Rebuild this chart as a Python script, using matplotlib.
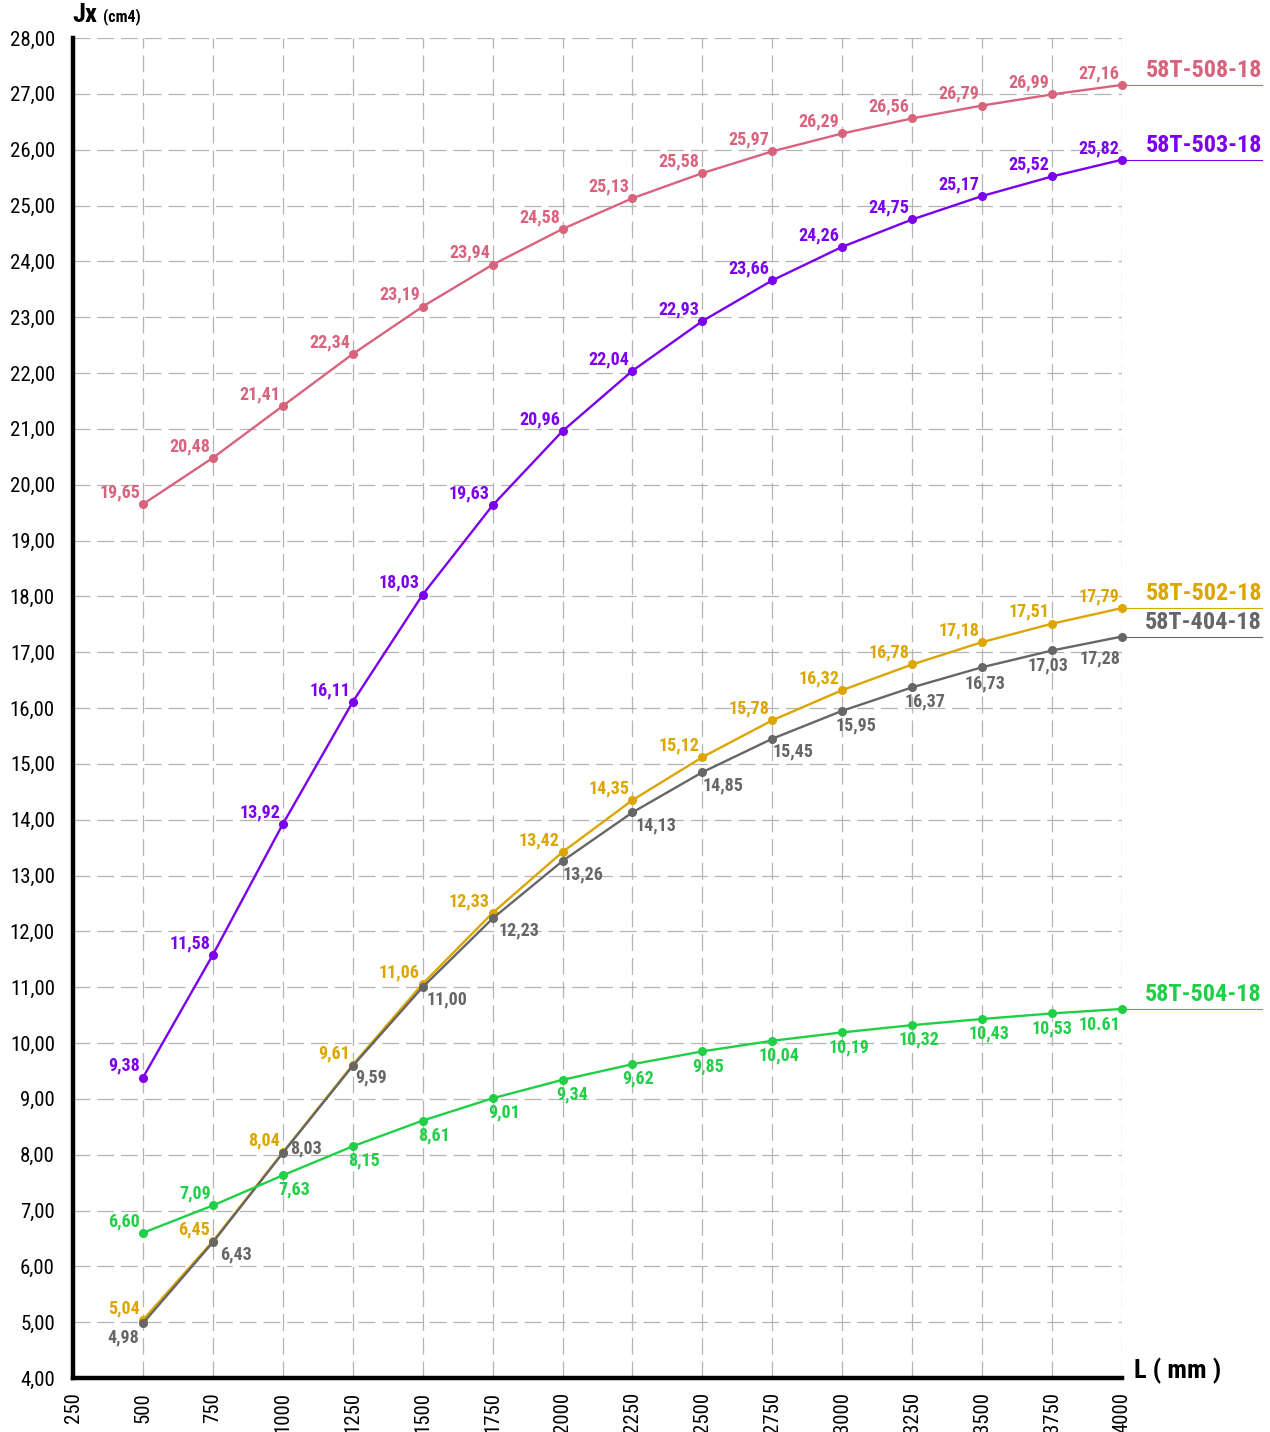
import matplotlib
matplotlib.use("Agg")
import matplotlib.pyplot as plt
from matplotlib import font_manager
from matplotlib.transforms import blended_transform_factory

# condensed font if one is installed, else DejaVu condensed
names = {f.name for f in font_manager.fontManager.ttflist}
narrow = [n for n in ['Roboto Condensed', 'Liberation Sans Narrow', 'Open Sans Condensed', 'Arial Narrow'] if n in names]
if narrow:
    plt.rcParams['font.family'] = [narrow[0], 'DejaVu Sans']
else:
    plt.rcParams['font.family'] = ['DejaVu Sans']
    plt.rcParams['font.stretch'] = 'condensed'

# data
lengths = [500, 750, 1000, 1250, 1500, 1750, 2000, 2250, 2500, 2750, 3000, 3250, 3500, 3750, 4000]
s508 = [19.65, 20.48, 21.41, 22.34, 23.19, 23.94, 24.58, 25.13, 25.58, 25.97, 26.29, 26.56, 26.79, 26.99, 27.16]
s503 = [9.38, 11.58, 13.92, 16.11, 18.03, 19.63, 20.96, 22.04, 22.93, 23.66, 24.26, 24.75, 25.17, 25.52, 25.82]
s502 = [5.04, 6.45, 8.04, 9.61, 11.06, 12.33, 13.42, 14.35, 15.12, 15.78, 16.32, 16.78, 17.18, 17.51, 17.79]
s404 = [4.98, 6.43, 8.03, 9.59, 11.00, 12.23, 13.26, 14.13, 14.85, 15.45, 15.95, 16.37, 16.73, 17.03, 17.28]
s504 = [6.60, 7.09, 7.63, 8.15, 8.61, 9.01, 9.34, 9.62, 9.85, 10.04, 10.19, 10.32, 10.43, 10.53, 10.61]
names_series = ['58T-508-18', '58T-503-18', '58T-502-18', '58T-404-18', '58T-504-18']
xticks = list(range(250, 4001, 250))
yticks = list(range(4, 29))

colors = {'58T-508-18': '#d9637d', '58T-503-18': '#7b00ee', '58T-502-18': '#dca500',
          '58T-404-18': '#666666', '58T-504-18': '#1fd046'}

# label offsets (points) for the series labelled below the line
off404 = [(-3, -4, 'right'), (5, -2, 'left'), (5, 3, 'left'), (2, -2, 'left'), (3, -2, 'left'),
          (4, -2, 'left'), (0, -3, 'left'), (2, -3, 'left'), (0, -3, 'left'), (0, -3, 'left'),
          (10, -4, 'center'), (9, -4, 'center'), (2, -5, 'center'), (-3, -4, 'center'), (-1, -9, 'right')]
off504 = [(-2, 2, 'right'), (-1, 2, 'right'), (8, -4, 'center'), (8, -4, 'center'), (8, -4, 'center'),
          (8, -4, 'center'), (7, -4, 'center'), (4, -4, 'center'), (4, -4, 'center'), (5, -4, 'center'),
          (5, -4, 'center'), (5, -4, 'center'), (5, -4, 'center'), (0, -4, 'center'), (-1, -5, 'right')]


def fmt(v):
    return ('%.2f' % v).replace('.', ',')


fig = plt.figure(figsize=(12.7, 14.32), dpi=100)
ax = fig.add_axes([73/1270, 54/1432, 1049/1270, 1340/1432])
ax.set_xlim(250, 4000)
ax.set_ylim(4, 28)
ax.set_xticks(xticks)
ax.set_yticks(yticks)
ax.set_xticklabels([str(t) for t in xticks], rotation=90, fontsize=15)
ax.set_yticklabels([fmt(t) for t in yticks], fontsize=15)
ax.tick_params(axis='x', length=0, pad=10)
ax.tick_params(axis='y', length=0, pad=13)
ax.grid(True, color='#b4b4b4', linestyle=(0, (13.5, 5.5)), linewidth=0.9)
ax.set_axisbelow(True)
for s in ['top', 'right']:
    ax.spines[s].set_visible(False)
for s in ['left', 'bottom']:
    ax.spines[s].set_linewidth(3.2)
    ax.spines[s].set_color('black')

tr = blended_transform_factory(fig.transFigure, ax.transData)
series = [s508, s503, s502, s404, s504]
for name, vals in zip(names_series, series):
    c = colors[name]
    ax.plot(lengths, vals, color=c, lw=1.7, marker='o', ms=5.5, zorder=3, clip_on=False)

    for i, (x, y) in enumerate(zip(lengths, vals)):
        txt = fmt(y)
        if name == '58T-504-18' and i == len(vals) - 1:
            txt = txt.replace(',', '.')
        if name == '58T-404-18':
            dx, dy, ha = off404[i]
            va = 'center' if i == 2 else ('bottom' if dy > 0 else 'top')
        elif name == '58T-504-18':
            dx, dy, ha = off504[i]
            va = 'bottom' if dy > 0 else 'top'
        else:
            dx, dy, ha, va = -2, 2, 'right', 'bottom'
        ax.annotate(txt, (x, y), xytext=(dx, dy), textcoords='offset points',
                    ha=ha, va=va, color=c, fontsize=13, fontweight='bold', zorder=4)

    # series name with underline at the right
    ax.plot([1122/1270, 1262/1270], [vals[-1], vals[-1]], color=c, lw=0.8,
            transform=tr, clip_on=False)
    ax.text(1262/1270, vals[-1] + 0.05, name, transform=tr, ha='right', va='bottom',
            color=c, fontsize=17.5, fontweight='bold')

fig.text(72/1270, 1 - 15/1432, 'Jx', fontsize=19, fontweight='bold', va='center', ha='left')
fig.text(103/1270, 1 - 17/1432, '(cm4)', fontsize=11.5, fontweight='bold', va='center', ha='left')
fig.text(1134/1270, 1 - 1371/1432, 'L ( mm )', fontsize=19, fontweight='bold', va='center', ha='left')

fig.savefig('out.png', dpi=100, facecolor='white')
